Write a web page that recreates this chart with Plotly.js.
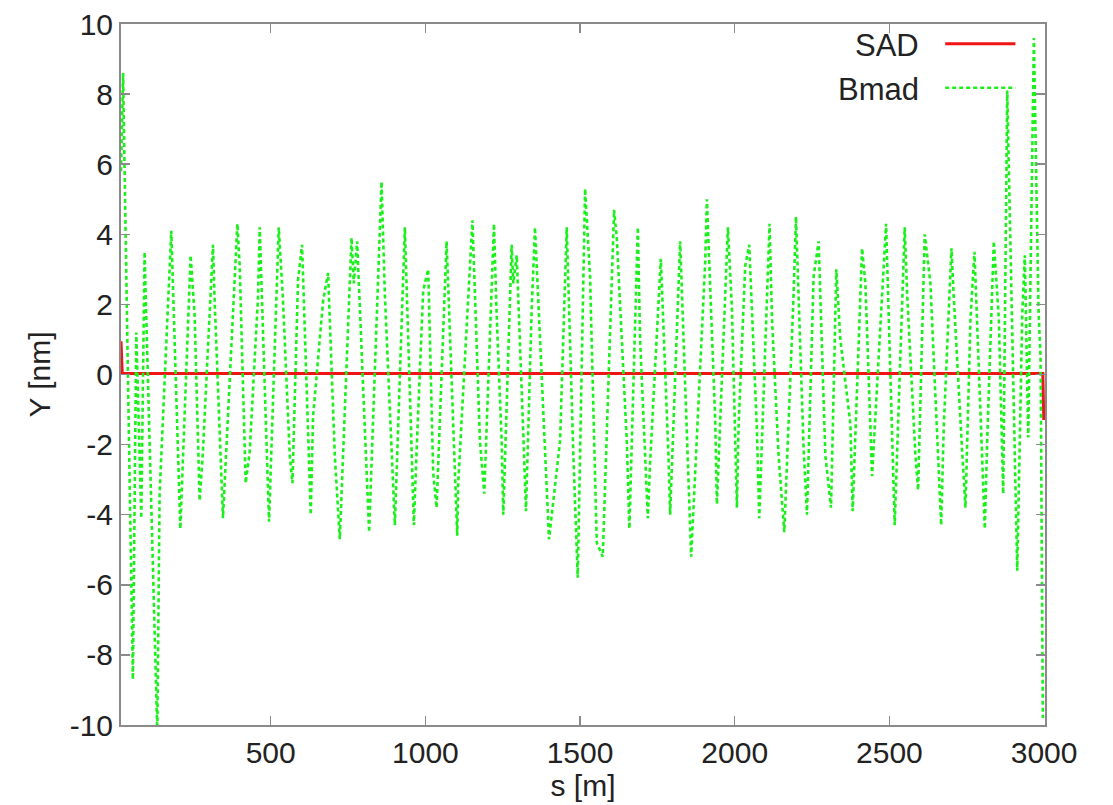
<!DOCTYPE html>
<html>
<head>
<meta charset="utf-8">
<script src="https://cdn.plot.ly/plotly-3.0.1.min.js"></script>
<style>
  html, body { margin: 0; padding: 0; background: #ffffff; }
  #chart { width: 1113px; height: 805px; }
</style>
</head>
<body>
<div id="chart"></div>
<script>
// ---- data ----
const sadS = [16, 20, 1500, 2996, 2999];
const sadY = [0.95, 0.03, 0.03, 0.03, -1.3];

const bmadS = [
  16.2, 22.7, 27.5, 54.4, 65.4, 81.6, 92.2, 133.3, 140.8, 178.6,
  207.8, 241.1, 254.0, 270.2, 280.9, 313.3, 318.8, 345.6, 392.2, 399.7,
  419.1, 432.0, 458.9, 464.4, 494.5, 525.9, 539.8, 561.5, 570.2, 588.3,
  601.3, 629.4, 636.9, 669.3, 685.4, 707.1, 723.3, 761.2, 768.6, 779.3,
  818.1, 858.2, 868.9, 890.6, 901.3, 933.6, 962.8, 971.5, 992.9, 1009.1,
  1025.2, 1036.2, 1057.6, 1068.6, 1102.9, 1106.1, 1152.1, 1176.4, 1190.3, 1221.7,
  1230.4, 1246.6, 1251.8, 1278.9, 1284.1, 1295.2, 1316.5, 1325.2, 1343.7, 1354.3,
  1399.7, 1435.3, 1456.9, 1478.3, 1492.5, 1516.2, 1532.3, 1554.0, 1573.4, 1610.0,
  1618.7, 1651.1, 1659.5, 1686.7, 1694.1, 1719.1, 1726.5, 1753.4, 1761.1, 1785.7,
  1791.2, 1823.6, 1850.5, 1859.2, 1904.5, 1910.0, 1936.9, 1942.4, 1977.9, 1990.9,
  2007.1, 2012.3, 2033.9, 2046.9, 2071.8, 2079.3, 2112.6, 2120.4, 2141.7, 2160.2,
  2190.3, 2198.0, 2222.6, 2233.6, 2255.0, 2271.2, 2292.9, 2311.3, 2328.4, 2341.4,
  2373.8, 2381.2, 2411.6, 2422.3, 2444.0, 2449.2, 2474.1, 2489.3, 2517.1, 2549.5,
  2557.3, 2584.1, 2592.8, 2614.2, 2632.6, 2667.3, 2675.7, 2700.6, 2708.1, 2735.2,
  2745.9, 2762.1, 2775.0, 2808.4, 2816.1, 2837.5, 2853.7, 2867.9, 2880.9, 2913.2,
  2929.4, 2937.8, 2948.8, 2967.0, 2982.2, 2988.6, 2996.1
];
const bmadY = [
  5.8, 8.6, 5.9, -8.7, 1.2, -4.1, 3.5, -10.2, -3.4, 4.1,
  -4.4, 3.4, 1.7, -3.6, -2.2, 3.7, 2.1, -4.1, 4.3, 3.1,
  -3.1, -2.2, 2.2, 4.2, -4.2, 4.2, 2.1, -2.3, -3.1, 2.7,
  3.7, -4.0, -1.2, 2.1, 2.9, -2.3, -4.7, 3.9, 2.6, 3.8,
  -4.5, 5.5, 2.3, -2.2, -4.3, 4.2, -4.3, -2.2, 2.4, 3.0,
  -2.8, -3.8, 1.2, 3.8, -4.6, -3.1, 4.4, -1.9, -3.4, 4.3,
  1.7, -1.9, -4.0, 3.7, 2.6, 3.4, -1.7, -3.9, 1.9, 4.2,
  -4.7, -1.9, 4.2, -2.3, -5.8, 5.3, 2.8, -4.8, -5.2, 4.7,
  3.9, -1.9, -4.4, 4.2, 1.0, -4.1, -2.5, 2.1, 3.3, -2.3,
  -4.0, 3.8, -3.0, -5.2, 3.2, 5.0, -1.3, -3.7, 4.2, 1.9,
  -3.8, -1.5, 3.1, 3.7, -1.6, -4.1, 4.3, 1.6, -2.3, -4.5,
  2.3, 4.5, -2.1, -4.0, 2.8, 3.8, -2.3, -3.8, 3.0, 1.0,
  -1.4, -3.9, 3.6, 2.6, -2.9, -2.0, 1.9, 4.3, -4.3, 4.2,
  2.3, -2.3, -3.3, 4.0, 2.6, -4.3, -1.5, 3.6, 2.2, -2.2,
  -3.8, 1.6, 3.5, -4.4, -1.9, 3.8, 1.6, -3.4, 8.1, -5.6,
  1.7, 3.4, -1.8, 9.6, 1.8, 0.5, -9.8
];

const xTickVals = [500, 1000, 1500, 2000, 2500, 3000];
const xTickText = ['500', '1000', '1500', '2000', '2500', '3000'];
const yTickVals = [-10, -8, -6, -4, -2, 0, 2, 4, 6, 8, 10];
const yTickText = ['-10', '-8', '-6', '-4', '-2', '0', '2', '4', '6', '8', '10'];

const seriesNames = ['SAD', 'Bmad'];

// ---- styles ----
const RED = '#f01414';
const GREEN = '#1cf01c';
const FRAME = '#8a8a8a';
const TEXT = '#222222';
const FONT = 'Liberation Sans, Arial, Helvetica, sans-serif';
const FS = 30;

const traces = [
  {
    x: sadS, y: sadY, type: 'scatter', mode: 'lines', name: seriesNames[0],
    line: { color: RED, width: 3 }, showlegend: false, hoverinfo: 'skip'
  },
  {
    x: bmadS, y: bmadY, type: 'scatter', mode: 'lines', name: seriesNames[1],
    line: { color: GREEN, width: 2.6, dash: '4px,3px' }, showlegend: false, hoverinfo: 'skip'
  }
];

const axisCommon = {
  showgrid: false, zeroline: false,
  showline: true, linecolor: FRAME, linewidth: 2, mirror: 'ticks',
  ticks: 'inside', ticklen: 9, tickwidth: 1.5, tickcolor: FRAME,
  tickfont: { family: FONT, size: FS, color: TEXT }
};

const layout = {
  width: 1113, height: 805,
  margin: { l: 121, r: 68, t: 24, b: 80 },
  paper_bgcolor: '#ffffff', plot_bgcolor: '#ffffff',
  showlegend: false,
  xaxis: Object.assign({}, axisCommon, {
    range: [16, 3003],
    tickmode: 'array', tickvals: xTickVals, ticktext: xTickText,
    title: { text: 's [m]', font: { family: FONT, size: FS, color: TEXT }, standoff: 0 }
  }),
  yaxis: Object.assign({}, axisCommon, {
    range: [-10, 10],
    tickmode: 'array', tickvals: yTickVals, ticktext: yTickText,
    title: { text: 'Y [nm]', font: { family: FONT, size: FS, color: TEXT }, standoff: 10 }
  }),
  annotations: [
    { xref: 'paper', yref: 'paper', x: 0.866, y: 0.970, xanchor: 'right', yanchor: 'middle',
      text: seriesNames[0], showarrow: false, font: { family: FONT, size: FS + 1, color: TEXT } },
    { xref: 'paper', yref: 'paper', x: 0.866, y: 0.907, xanchor: 'right', yanchor: 'middle',
      text: seriesNames[1], showarrow: false, font: { family: FONT, size: FS + 1, color: TEXT } }
  ],
  shapes: [
    { type: 'line', xref: 'paper', yref: 'paper', x0: 0.892, x1: 0.968, y0: 0.972, y1: 0.972,
      line: { color: RED, width: 3 } },
    { type: 'line', xref: 'paper', yref: 'paper', x0: 0.892, x1: 0.968, y0: 0.909, y1: 0.909,
      line: { color: GREEN, width: 2.6, dash: '4px,3px' } }
  ]
};

Plotly.newPlot('chart', traces, layout, { staticPlot: true, displayModeBar: false });
</script>
</body>
</html>
